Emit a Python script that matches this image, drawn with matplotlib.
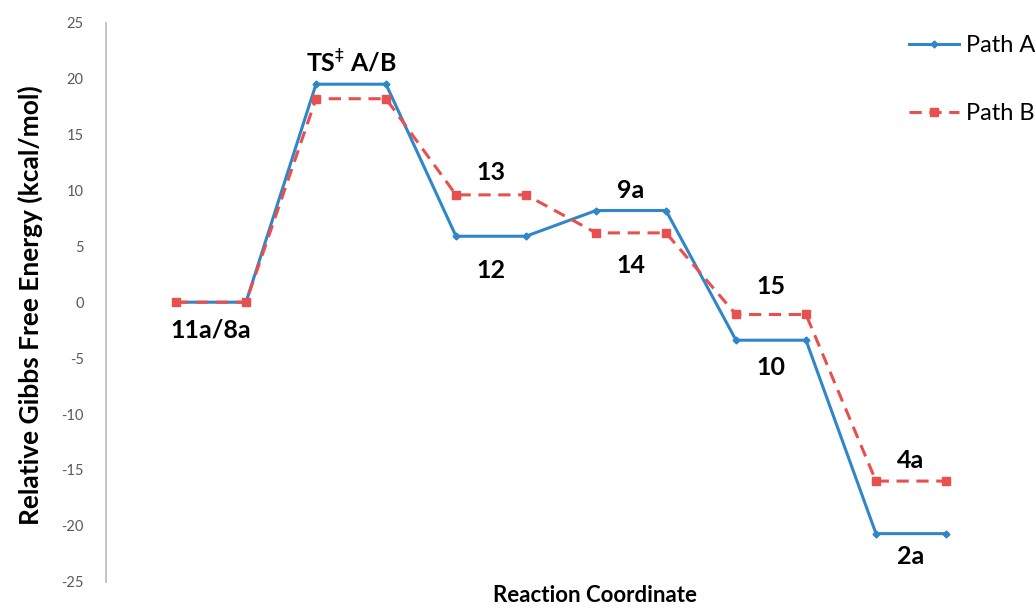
import numpy as np
import matplotlib.pyplot as plt

# Relative free energies (kcal/mol), two points per state so each level is a plateau
path_a = [0, 0, 19.5, 19.5, 5.9, 5.9, 8.2, 8.2, -3.4, -3.4, -20.7, -20.7]
path_b = [0, 0, 18.2, 18.2, 9.6, 9.6, 6.2, 6.2, -1.1, -1.1, -16.0, -16.0]
series_names = ['Path A', 'Path B']

# state labels: (text, state index, which path it sits on, above/below)
state_labels = ['11a/8a', r'TS$^{\ddag}$ A/B', '13', '12', '9a', '14', '15', '10', '4a', '2a']
label_state = [0, 1, 2, 2, 3, 3, 4, 4, 5, 5]
label_path = ['a', 'a', 'b', 'a', 'a', 'b', 'b', 'a', 'b', 'a']
label_shift = [-28, 22, 22, -34, 20, -33, 28, -27, 21, -23]   # pixels

yticks = np.arange(-25, 26, 5)

blue = '#2f86c8'
red = '#e8504f'
plt.rcParams['font.family'] = ['Lato', 'DejaVu Sans']

fig = plt.figure(figsize=(10.35, 6.08), dpi=100)
ax = fig.add_axes([106/1035, 26.3/608, 910/1035, 559/608])

x = np.arange(1, len(path_a) + 1)
ax.plot(x, path_a, color=blue, lw=2.2, marker='D', ms=3.5, label=series_names[0])
ax.plot(x, path_b, color=red, lw=2.2, ls=(0, (4, 2.5)), marker='s', ms=5.5, label=series_names[1])

for txt, st, p, dy in zip(state_labels, label_state, label_path, label_shift):
    vals = path_a if p == 'a' else path_b
    xc = x[2*st] + 0.5
    ax.annotate(txt, xy=(xc, vals[2*st]), xytext=(0, dy), textcoords='offset pixels',
                ha='center', va='center', fontsize=18, fontweight='bold', color='black')

ax.set_xlim(0, 13)
ax.set_ylim(-25, 25)
ax.set_yticks(yticks)
ax.set_yticklabels([str(v) for v in yticks], color='#595959', fontsize=10.5)
ax.tick_params(axis='y', length=0, pad=16)
ax.set_xticks([])
for s in ['top', 'right', 'bottom']:
    ax.spines[s].set_visible(False)
ax.spines['left'].set_color('#bfbfbf')
ax.spines['left'].set_linewidth(1.3)

fig.text(30/1035, 1 - 305/608, 'Relative Gibbs Free Energy (kcal/mol)', rotation=90,
         ha='center', va='center', fontsize=19, fontweight='bold')
fig.text(595/1035, 1 - 596/608, 'Reaction Coordinate', ha='center', va='center',
         fontsize=16, fontweight='bold')

fig.legend(loc='upper left', bbox_to_anchor=(888/1035, 1 - 14/608), frameon=False,
           fontsize=17, handlelength=2.1, handletextpad=0.3, labelspacing=2.0)

fig.savefig('out.png', dpi=100)
